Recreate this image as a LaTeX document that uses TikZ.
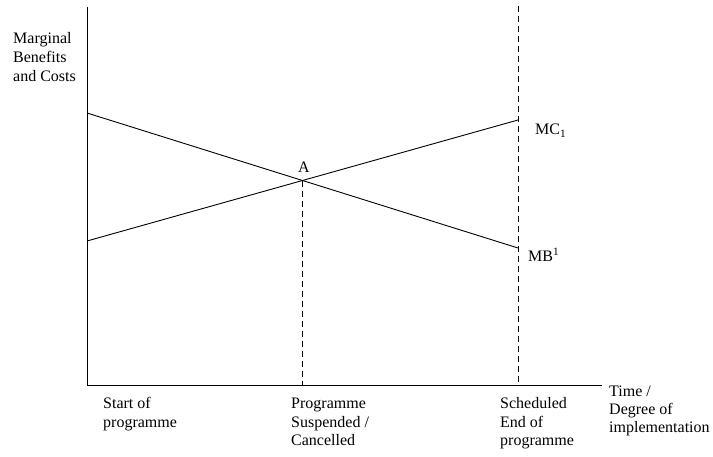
\documentclass[tikz,border=0pt]{standalone}
\usepackage{fontspec}
\setmainfont{Liberation Serif}
\begin{document}
\begin{tikzpicture}[x=1pt,y=-1pt,
  lbl/.style={inner sep=0pt,anchor=base west,align=left,font=\fontsize{16}{18}\selectfont},
  curve/.style={line width=0.9pt},
  axis/.style={line width=0.9pt},
  guide/.style={line width=0.9pt,dash pattern=on 6pt off 4pt}]
\useasboundingbox (0,0) rectangle (713,457);
\coordinate (O) at (87,385);
\coordinate (ytop) at (87,7);
\coordinate (xend) at (602,385);
\coordinate (mb1) at (87,113);
\coordinate (mb2) at (518,248);
\coordinate (mc1) at (87,241);
\coordinate (mc2) at (518,120);
\coordinate (stop) at (518,6);
\coordinate (sbot) at (518,385);
\coordinate (A) at (intersection of mb1--mb2 and mc1--mc2);
\draw[axis] (ytop) -- (O) -- (xend);
\draw[curve] (mb1) -- (mb2);
\draw[curve] (mc1) -- (mc2);
\draw[guide] (stop) -- (sbot);
\draw[guide] (A) -- (A |- O);
\node[lbl,anchor=base] (lA) at (304,173) {A};
\node[lbl] (lmc) at (535,135) {MC\textsubscript{1}};
\node[lbl] (lmb) at (528,262) {MB\textsuperscript{1}};
\node[lbl,font=\fontsize{16}{19}\selectfont] (ly) at (13,82) {Marginal\\Benefits\\and Costs};
\node[lbl] (l1) at (103,427) {Start of\\programme};
\node[lbl] (l2) at (291,445) {Programme\\Suspended /\\Cancelled};
\node[lbl] (l3) at (500,445) {Scheduled\\End of\\programme};
\node[lbl] (lx) at (609,432) {Time /\\Degree of\\implementation};
\end{tikzpicture}
\end{document}
